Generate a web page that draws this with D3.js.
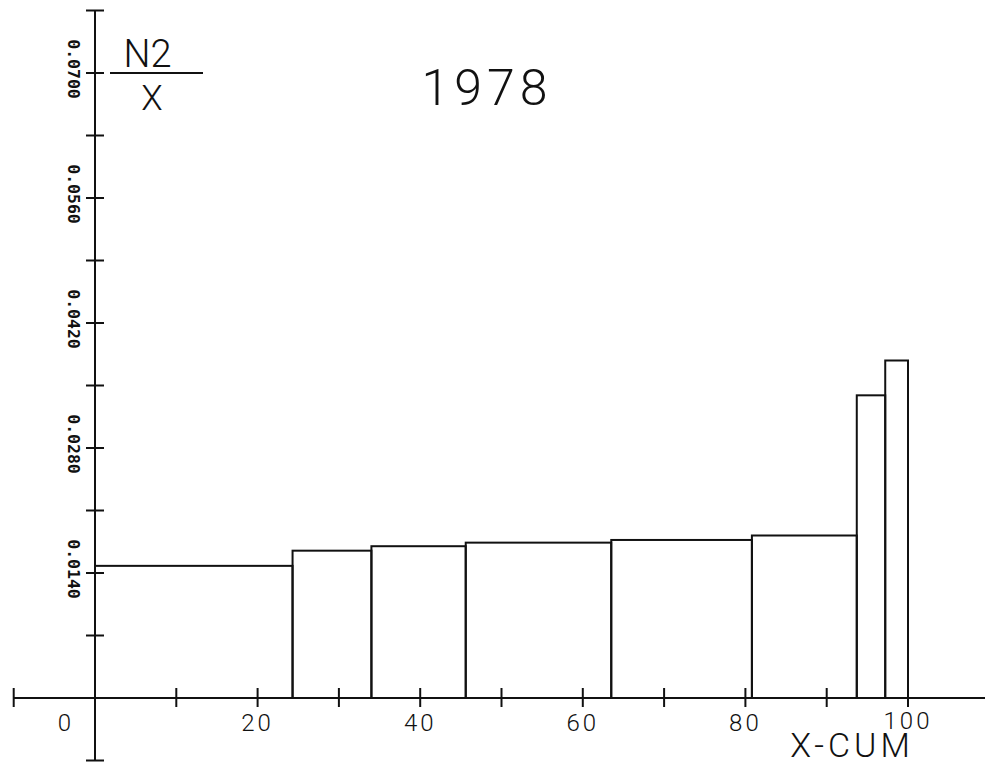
<!DOCTYPE html>
<html lang="en">
<head>
    <meta charset="UTF-8">
    <title>N2/X 1978</title>
    <style>
        * {
    margin: 0;
    padding: 0;
}
body {
    background: #ffffff;
}
svg {
    display: block;
    background: #ffffff;
}
.plot {
    font-family: Roboto, "DejaVu Sans", sans-serif;
    font-weight: 300;
    fill: #111;
}
.ylab {
    font-family: "DejaVu Sans Mono", monospace;
    font-weight: bold;
    font-size: 16.5px;
    fill: #111;
}
    </style>
    <script src="https://cdn.jsdelivr.net/npm/d3@7"></script>
</head>
<body>
    <div id="chart"></div>
    <script>
        // histogram bins (cumulative X, percent)
        var binEdges = [0, 24.3, 34.0, 45.6, 63.5, 80.8, 93.7, 97.2, 100];
        var binValues = [0.0148, 0.0165, 0.0170, 0.0174, 0.0177, 0.0182, 0.0339, 0.0378];

        var xTickLabels = [0, 20, 40, 60, 80, 100];
        var xTicks = [-10, 0, 10, 20, 30, 40, 50, 60, 70, 80, 90, 100];
        var yTickLabels = ['0.0140', '0.0280', '0.0420', '0.0560', '0.0700'];
        var yTicks = [-0.007, 0, 0.007, 0.014, 0.021, 0.028, 0.035, 0.042, 0.049, 0.056, 0.063, 0.070, 0.077];

        var w = 985,
            h = 764;

        var svg = d3.select('#chart')
                    .append('svg')
                    .attr('width', w)
                    .attr('height', h);

        var xScale = d3.scaleLinear()
                       .domain([-10, 110])
                       .range([95 - 81.3, 95 + 110 * 8.13]);
        var yScale = d3.scaleLinear()
                       .domain([-0.007, 0.077])
                       .range([760.5, 10.5]);

        var x0 = xScale(0), y0 = yScale(0);
        var ink = '#111';

        // X-AXIS line (runs off the right edge like the original)
        svg.append('line')
            .attr('x1', xScale(-10)).attr('x2', w)
            .attr('y1', y0).attr('y2', y0)
            .attr('stroke', ink).attr('stroke-width', 2);

        svg.selectAll('.xtick')
            .data(xTicks)
            .enter()
            .append('line')
            .attr('class', 'xtick')
            .attr('x1', (d) => xScale(d)).attr('x2', (d) => xScale(d))
            .attr('y1', y0 - 10).attr('y2', y0 + 9)
            .attr('stroke', ink).attr('stroke-width', 2);

        // Y-AXIS
        svg.append('line')
            .attr('x1', x0).attr('x2', x0)
            .attr('y1', yScale(0.077)).attr('y2', yScale(-0.007))
            .attr('stroke', ink).attr('stroke-width', 2);

        svg.selectAll('.ytick')
            .data(yTicks)
            .enter()
            .append('line')
            .attr('class', 'ytick')
            .attr('x1', x0 - 9).attr('x2', x0 + 9)
            .attr('y1', (d) => yScale(d)).attr('y2', (d) => yScale(d))
            .attr('stroke', ink).attr('stroke-width', 2);

        // tick labels
        svg.selectAll('.xlab')
            .data(xTickLabels)
            .enter()
            .append('text')
            .attr('class', 'plot')
            .attr('x', (d) => d === 0 ? x0 - 29 : xScale(d))
            .attr('y', (d) => d === 100 ? 729 : 731)
            .attr('text-anchor', 'middle')
            .style('font-size', '24px')
            .style('letter-spacing', '3px')
            .text((d) => d);

        svg.selectAll('.ylab')
            .data(yTickLabels)
            .enter()
            .append('text')
            .attr('class', 'ylab')
            .attr('transform', (d) => 'translate(73.5,' + (yScale(+d) - 4) + ') rotate(90)')
            .attr('text-anchor', 'middle')
            .attr('dominant-baseline', 'central')
            .text((d) => d);

        // BARS (outlined steps)
        svg.selectAll('.bin')
            .data(binValues)
            .enter()
            .append('rect')
            .attr('class', 'bin')
            .attr('x', (d, i) => xScale(binEdges[i]))
            .attr('width', (d, i) => xScale(binEdges[i + 1]) - xScale(binEdges[i]))
            .attr('y', (d) => yScale(d))
            .attr('height', (d) => y0 - yScale(d))
            .attr('fill', 'none')
            .attr('stroke', ink)
            .attr('stroke-width', 2);

        // TITLES
        svg.append('text')
            .attr('class', 'plot')
            .attr('x', 147.5).attr('y', 67)
            .attr('text-anchor', 'middle')
            .style('font-size', '38px')
            .text('N2');
        svg.append('line')
            .attr('x1', 110).attr('x2', 203)
            .attr('y1', 73).attr('y2', 73)
            .attr('stroke', ink).attr('stroke-width', 2);
        svg.append('text')
            .attr('class', 'plot')
            .attr('x', 152).attr('y', 110)
            .attr('text-anchor', 'middle')
            .style('font-size', '35px')
            .text('X');

        svg.append('text')
            .attr('class', 'plot')
            .attr('x', 487).attr('y', 105)
            .attr('text-anchor', 'middle')
            .style('font-size', '50px')
            .style('letter-spacing', '5px')
            .text('1978');

        svg.append('text')
            .attr('class', 'plot')
            .attr('x', 852).attr('y', 757)
            .attr('text-anchor', 'middle')
            .style('font-size', '34px')
            .style('letter-spacing', '4px')
            .text('X-CUM');
    </script>
</body>
</html>
